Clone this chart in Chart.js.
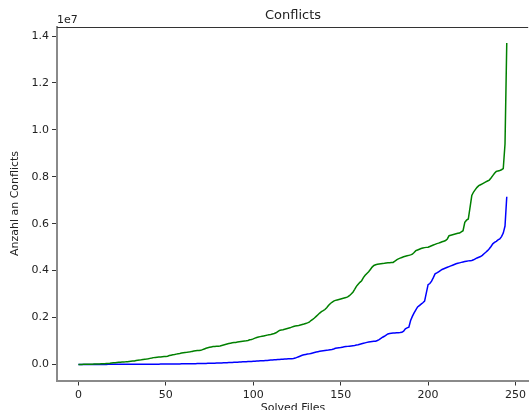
<!DOCTYPE html>
<html>
<head>
<meta charset="utf-8">
<title>Conflicts</title>
<script src="https://cdn.jsdelivr.net/npm/chart.js@4/dist/chart.umd.min.js"></script>
<style>
  html, body { margin: 0; padding: 0; background: #fff; overflow: hidden; }
  #chart { display: block; }
</style>
</head>
<body>
<canvas id="chart" width="529" height="410"></canvas>
<script>
// conflicts per solved file (in thousands), sorted ascending
const greenK = [
  0, 1, 2, 3, 5, 6, 8, 10, 12, 14,
  16, 19, 22, 25, 28, 32, 36, 41, 48, 60,
  70, 76, 82, 88, 95, 100, 104, 110, 118, 126,
  134, 142, 150, 168, 176, 184, 196, 210, 222, 232,
  244, 258, 272, 290, 300, 306, 312, 318, 326, 334,
  340, 350, 380, 396, 410, 424, 440, 456, 470, 490,
  500, 508, 516, 526, 540, 556, 570, 580, 590, 596,
  600, 630, 660, 690, 710, 730, 745, 760, 768, 775,
  778, 790, 810, 830, 850, 870, 888, 905, 920, 935,
  940, 952, 965, 975, 985, 995, 1005, 1020, 1050, 1065,
  1090, 1120, 1150, 1170, 1185, 1200, 1215, 1230, 1250, 1265,
  1280, 1300, 1320, 1350, 1400, 1450, 1465, 1480, 1500, 1520,
  1540, 1560, 1590, 1620, 1640, 1650, 1660, 1680, 1700, 1720,
  1745, 1770, 1800, 1870, 1920, 1980, 2050, 2120, 2190, 2250,
  2290, 2340, 2420, 2510, 2590, 2650, 2700, 2730, 2750, 2770,
  2790, 2810, 2830, 2850, 2880, 2930, 3000, 3080, 3200, 3330,
  3420, 3500, 3570, 3700, 3800, 3880, 3950, 4050, 4150, 4220,
  4250, 4270, 4285, 4295, 4305, 4310, 4320, 4330, 4340, 4345,
  4350, 4400, 4460, 4500, 4530, 4560, 4590, 4610, 4630, 4650,
  4670, 4700, 4770, 4850, 4880, 4910, 4940, 4960, 4980, 4990,
  5000, 5030, 5060, 5090, 5120, 5150, 5170, 5200, 5230, 5255,
  5280, 5350, 5490, 5510, 5530, 5550, 5570, 5590, 5600, 5650,
  5700, 6060, 6150, 6200, 6700, 7200, 7350, 7450, 7550, 7620,
  7660, 7700, 7740, 7780, 7820, 7860, 7950, 8050, 8150, 8230,
  8250, 8270, 8300, 8350, 9400, 13700
];

const blueK = [
  0, 0, 0, 0, 0, 1, 1, 1, 1, 1,
  1, 1, 2, 2, 2, 2, 2, 3, 3, 3,
  3, 3, 4, 4, 4, 4, 5, 5, 5, 6,
  6, 6, 7, 7, 8, 8, 8, 9, 9, 10,
  10, 11, 11, 12, 12, 13, 13, 14, 14, 15,
  16, 16, 17, 18, 19, 20, 21, 22, 23, 24,
  25, 26, 27, 28, 30, 31, 33, 34, 36, 37,
  39, 41, 43, 45, 47, 49, 51, 53, 55, 58,
  60, 63, 66, 69, 72, 75, 78, 82, 86, 90,
  94, 98, 102, 106, 110, 114, 118, 122, 126, 130,
  134, 138, 142, 147, 152, 157, 162, 167, 172, 178,
  184, 190, 196, 202, 208, 214, 220, 225, 230, 235,
  238, 240, 242, 250, 270, 300, 330, 360, 390, 410,
  425, 440, 450, 470, 490, 510, 530, 545, 560, 575,
  585, 595, 605, 615, 630, 640, 660, 690, 700, 710,
  720, 735, 750, 760, 770, 780, 790, 800, 810, 825,
  840, 860, 880, 900, 920, 940, 955, 965, 975, 985,
  990, 1020, 1060, 1110, 1160, 1200, 1250, 1300, 1320, 1330,
  1340, 1345, 1350, 1355, 1360, 1370, 1420, 1520, 1560, 1590,
  1870, 2050, 2200, 2330, 2450, 2510, 2570, 2630, 2700, 3050,
  3400, 3450, 3550, 3700, 3860, 3900, 3950, 4000, 4050, 4080,
  4110, 4140, 4170, 4200, 4230, 4260, 4290, 4310, 4330, 4350,
  4370, 4385, 4400, 4415, 4425, 4430, 4460, 4500, 4540, 4570,
  4600, 4650, 4720, 4780, 4850, 4930, 5030, 5140, 5200, 5250,
  5310, 5350, 5450, 5600, 5900, 7150
];

const xTicks = [0, 50, 100, 150, 200, 250];
const yTicks = [0, 2e6, 4e6, 6e6, 8e6, 10e6, 12e6, 14e6];

const FONT = "DejaVu Sans";

function toPoints(valuesK) {
  return valuesK.map((v, i) => ({ x: i, y: v * 1000 }));
}

// title, offset text, axis labels and the top spine
const extrasPlugin = {
  id: "extras",
  afterDraw(chart) {
    const ctx = chart.ctx;
    const area = chart.chartArea;
    ctx.save();
    ctx.strokeStyle = "#333";
    ctx.lineWidth = 1;
    ctx.beginPath();
    ctx.moveTo(area.left, area.top + 0.5);
    ctx.lineTo(area.right, area.top + 0.5);
    ctx.stroke();

    ctx.fillStyle = "#222";
    ctx.textAlign = "center";
    ctx.textBaseline = "middle";
    ctx.font = `13px "${FONT}"`;
    ctx.fillText("Conflicts", 293, 16);

    ctx.font = `11px "${FONT}"`;
    ctx.textAlign = "left";
    ctx.fillText("1e7", 57, 20);

    ctx.textAlign = "center";
    ctx.textBaseline = "top";
    ctx.fillText("Solved Files", 293, 403);

    ctx.translate(15, 203.5);
    ctx.rotate(-Math.PI / 2);
    ctx.textBaseline = "middle";
    ctx.fillText("Anzahl an Conflicts", 0, 0);
    ctx.restore();
  },
};

document.addEventListener("DOMContentLoaded", () => {
  const ctx = document.getElementById("chart");
  new Chart(ctx, {
    type: "line",
    data: {
      datasets: [
        {
          data: toPoints(greenK),
          borderColor: "#008000",
          borderWidth: 1.5,
          pointRadius: 0,
          tension: 0,
        },
        {
          data: toPoints(blueK),
          borderColor: "#0000ff",
          borderWidth: 1.5,
          pointRadius: 0,
          tension: 0,
        },
      ],
    },
    options: {
      responsive: false,
      animation: false,
      devicePixelRatio: 1,
      layout: { padding: { top: 27, left: 0, right: 0, bottom: 0 } },
      plugins: {
        legend: { display: false },
        tooltip: { enabled: false },
      },
      scales: {
        x: {
          type: "linear",
          min: -12.25,
          max: 257.25,
          afterBuildTicks: (scale) => {
            scale.ticks = xTicks.map((v) => ({ value: v }));
          },
          afterFit: (scale) => {
            scale.height = 29.5;
          },
          grid: {
            drawOnChartArea: false,
            drawTicks: true,
            tickLength: 5,
            tickColor: "#333",
          },
          border: { display: true, color: "#8a8a8a", width: 2 },
          ticks: {
            color: "#222",
            padding: 3,
            maxRotation: 0,
            font: { family: FONT, size: 11 },
            callback: (v) => v,
          },
        },
        y: {
          min: -685000,
          max: 14385000,
          afterBuildTicks: (scale) => {
            scale.ticks = yTicks.map((v) => ({ value: v }));
          },
          afterFit: (scale) => {
            scale.width = 57;
          },
          grid: {
            drawOnChartArea: false,
            drawTicks: true,
            tickLength: 5,
            tickColor: "#333",
          },
          border: { display: true, color: "#8a8a8a", width: 2 },
          ticks: {
            color: "#222",
            padding: 3,
            font: { family: FONT, size: 11 },
            callback: (v) => (v / 1e7).toFixed(1),
          },
        },
      },
    },
    plugins: [extrasPlugin],
  });
});
</script>
</body>
</html>
